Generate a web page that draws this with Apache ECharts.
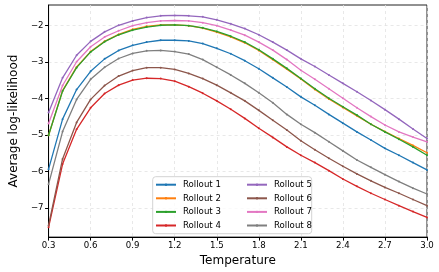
<!DOCTYPE html>
<html><head><meta charset="utf-8">
<script src="https://cdn.jsdelivr.net/npm/echarts@6/dist/echarts.min.js"></script>
<style>html,body{margin:0;padding:0;background:#fff}#c{width:439px;height:272px}</style>
</head><body><div id="c"></div>
<script>
const temps = [0.3,0.4,0.5,0.6,0.7,0.8,0.9,1.0,1.1,1.2,1.3,1.4,1.5,1.6,1.7,1.8,1.9,2.0,2.1,2.2,2.3,2.4,2.5,2.6,2.7,2.8,2.9,3.0];
const rollout1 = [-5.93,-4.56,-3.75,-3.25,-2.91,-2.68,-2.54,-2.45,-2.40,-2.40,-2.42,-2.49,-2.62,-2.77,-2.96,-3.18,-3.43,-3.68,-3.95,-4.18,-4.43,-4.67,-4.91,-5.13,-5.36,-5.55,-5.75,-5.95];
const rollout2 = [-5.00,-3.78,-3.13,-2.71,-2.43,-2.24,-2.10,-2.02,-1.98,-1.98,-2.00,-2.07,-2.18,-2.31,-2.47,-2.68,-2.93,-3.19,-3.46,-3.75,-4.01,-4.24,-4.47,-4.70,-4.90,-5.09,-5.28,-5.48];
const rollout3 = [-5.00,-3.79,-3.15,-2.72,-2.44,-2.25,-2.12,-2.04,-1.99,-1.98,-2.00,-2.06,-2.16,-2.29,-2.45,-2.66,-2.91,-3.17,-3.45,-3.73,-3.99,-4.22,-4.45,-4.70,-4.91,-5.11,-5.32,-5.55];
const rollout4 = [-7.52,-5.79,-4.84,-4.25,-3.86,-3.63,-3.49,-3.44,-3.45,-3.52,-3.67,-3.85,-4.06,-4.29,-4.54,-4.81,-5.06,-5.32,-5.55,-5.75,-5.97,-6.20,-6.40,-6.59,-6.76,-6.93,-7.09,-7.25];
const rollout5 = [-4.38,-3.43,-2.81,-2.43,-2.17,-1.99,-1.87,-1.78,-1.73,-1.72,-1.73,-1.76,-1.84,-1.95,-2.08,-2.25,-2.45,-2.67,-2.91,-3.12,-3.35,-3.58,-3.81,-4.05,-4.30,-4.56,-4.83,-5.09];
const rollout6 = [-7.47,-5.65,-4.65,-4.02,-3.64,-3.38,-3.23,-3.15,-3.15,-3.20,-3.31,-3.45,-3.63,-3.84,-4.06,-4.32,-4.59,-4.86,-5.15,-5.40,-5.63,-5.85,-6.06,-6.25,-6.43,-6.59,-6.76,-6.93];
const rollout7 = [-4.68,-3.64,-2.99,-2.58,-2.31,-2.14,-2.00,-1.92,-1.87,-1.86,-1.87,-1.92,-2.00,-2.12,-2.26,-2.45,-2.67,-2.93,-3.22,-3.47,-3.73,-3.99,-4.25,-4.49,-4.72,-4.91,-5.05,-5.18];
const rollout8 = [-6.34,-4.90,-4.02,-3.47,-3.14,-2.90,-2.76,-2.69,-2.68,-2.71,-2.78,-2.93,-3.14,-3.35,-3.58,-3.84,-4.11,-4.43,-4.70,-4.93,-5.18,-5.43,-5.68,-5.88,-6.08,-6.27,-6.45,-6.61];
const seriesNames = ['Rollout 1','Rollout 2','Rollout 3','Rollout 4','Rollout 5','Rollout 6','Rollout 7','Rollout 8'];
const seriesValues = [rollout1,rollout2,rollout3,rollout4,rollout5,rollout6,rollout7,rollout8];
const colors = ['#1f77b4','#ff7f0e','#2ca02c','#d62728','#9467bd','#8c564b','#e377c2','#7f7f7f'];
const xTicks = [0.3,0.6,0.9,1.2,1.5,1.8,2.1,2.4,2.7,3.0];
const yTicks = [-7,-6,-5,-4,-3,-2];

const FONT = 'DejaVu Sans';
const chart = echarts.init(document.getElementById('c'), null, {renderer:'canvas'});
const series = seriesNames.map((n,i)=>({
  name:n, type:'line', data: temps.map((t,j)=>[t, seriesValues[i][j]]),
  color: colors[i], symbol:'circle', symbolSize:2, showSymbol:true,
  lineStyle:{width:1.3, color:colors[i]}, itemStyle:{color:colors[i]},
  emphasis:{disabled:true}, animation:false, z: 2+i*0.01
}));
const legendCommon = {
  orient:'vertical', top:179.7, padding:0, itemWidth:20, itemHeight:3, itemGap:3.6,
  textStyle:{fontFamily:FONT, fontSize:8.6, color:'#000', lineHeight:10, height:10, padding:[0,0,0,2]},
  z:10
};
chart.setOption({
  animation:false,
  grid:{left:37, right:12, top:5, bottom:34, show:true, borderColor:'#222', borderWidth:1, backgroundColor:'transparent'},
  xAxis:{type:'value', min:0.3, max:3.0, interval:0.3,
    axisLine:{show:true, lineStyle:{color:'#000', width:1}},
    axisTick:{show:true, length:3.5, lineStyle:{color:'#000'}},
    axisLabel:{fontFamily:FONT, fontSize:8.6, color:'#000', margin:4, formatter:v=>v.toFixed(1)},
    splitLine:{show:true, lineStyle:{color:'#e2e2e2', type:[3,3], width:0.8}},
    name:'Temperature', nameLocation:'middle', nameGap:14,
    nameTextStyle:{fontFamily:FONT, fontSize:12, color:'#000'}
  },
  yAxis:{type:'value', min:-7.79, max:-1.435, minInterval:1, maxInterval:1,
    axisLine:{show:true, lineStyle:{color:'#000', width:1}},
    axisTick:{show:true, length:3.5, lineStyle:{color:'#000'}, customValues:yTicks},
    axisLabel:{fontFamily:FONT, fontSize:8.6, color:'#000', margin:5, customValues:yTicks,
      formatter:v=>(v<0?'\u2212':'')+Math.abs(v)},
    splitLine:{show:true, lineStyle:{color:'#e2e2e2', type:[3,3], width:0.8}},
    name:'Average log-likelihood', nameLocation:'middle', nameGap:14, nameRotate:90,
    nameTextStyle:{fontFamily:FONT, fontSize:12, color:'#000'}
  },
  legend:[
    Object.assign({}, legendCommon, {left:155, data:seriesNames.slice(0,4)}),
    Object.assign({}, legendCommon, {left:246, data:seriesNames.slice(4,8)})
  ],
  graphic:[{type:'rect', z:9, shape:{x:152.7, y:176.7, width:159, height:57, r:3},
    style:{fill:'rgba(255,255,255,0.8)', stroke:'#d3d3d3', lineWidth:1}}],
  series: series
});
</script></body></html>
